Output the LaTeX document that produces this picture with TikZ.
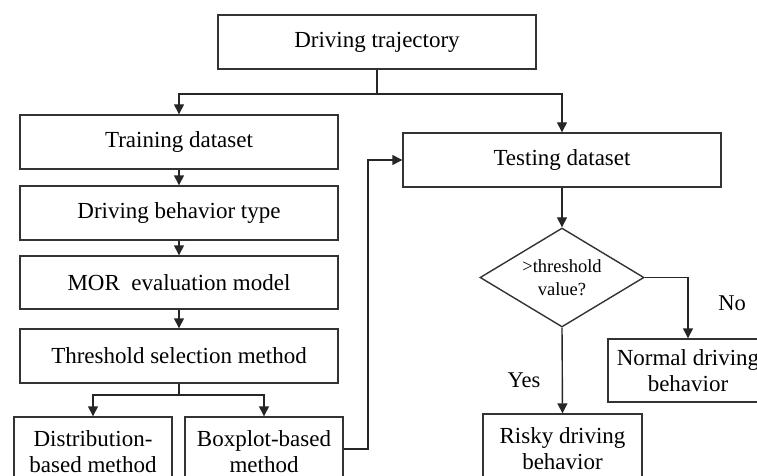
\documentclass[tikz,border=0pt]{standalone}
\usepackage{fontspec}
\setmainfont{Liberation Serif}
\usetikzlibrary{arrows.meta,shapes.geometric}
\begin{document}
\begin{tikzpicture}[x=1pt,y=-1pt,
  box/.style={draw=black!80,line width=1.4pt,rectangle,inner sep=0pt,align=center,
    font=\fontsize{23}{26}\selectfont},
  lbl/.style={inner sep=0pt,font=\fontsize{22.5}{26}\selectfont},
  arr/.style={draw=black!85,line width=1.4pt,-{Triangle[length=10pt,width=10pt]}},
  ln/.style={draw=black!85,line width=1.4pt}]
\useasboundingbox (0,0) rectangle (757,476);
\clip (0,0) rectangle (757,476);
\node[box,minimum width=318pt,minimum height=54pt] (traj) at (377,42) {Driving trajectory};
\node[box,minimum width=318pt,minimum height=54pt] (train) at (179,142) {Training dataset};
\node[box,minimum width=318pt,minimum height=54pt] (type) at (179,213) {Driving behavior type};
\node[box,minimum width=318pt,minimum height=53pt] (mor) at (179,282.5) {MOR\ \ evaluation model};
\node[box,minimum width=318pt,minimum height=54pt] (thr) at (179,356) {Threshold selection method};
\node[box,minimum width=158pt,minimum height=70pt] (dist) at (93,452) {Distribution-\\based method};
\node[box,minimum width=158pt,minimum height=70pt] (boxp) at (264,452) {Boxplot-based\\method};
\node[box,minimum width=318pt,minimum height=54pt] (test) at (562,160) {Testing dataset};
\node[draw=black!80,line width=1.4pt,diamond,aspect=1.66,minimum width=164pt,minimum height=99pt,inner sep=0pt,
  align=center,font=\fontsize{18.5}{23}\selectfont] (dia) at (562,277.5) {>threshold\\value?};
\node[box,minimum width=160pt,minimum height=63pt] (norm) at (688,370.5) {Normal driving\\behavior};
\node[box,minimum width=159pt,minimum height=70pt] (risky) at (562.5,449) {Risky driving\\behavior};
\coordinate (split) at (377,94);
\coordinate (split2) at (179,395);
\coordinate (up) at (368,449);
\draw[ln] (traj.south) -- (split);
\draw[arr] (split) -| (train.north);
\draw[arr] (split) -| (test.north);
\draw[arr] (train) -- (type);
\draw[arr] (type) -- (mor);
\draw[arr] (mor) -- (thr);
\draw[ln] (thr.south) -- (split2);
\draw[arr] (split2) -| (dist.north);
\draw[arr] (split2) -| (boxp.north);
\draw[arr] (boxp.east |- up) -- (up) |- (test.west);
\draw[arr] (test) -- (dia);
\draw[arr] (dia.east) -| (norm.north);
\draw[arr] (dia.south) -- (risky.north);
\node[lbl] (no) at (732,303) {No};
\node[lbl] (yes) at (524,380) {Yes};
\end{tikzpicture}
\end{document}
